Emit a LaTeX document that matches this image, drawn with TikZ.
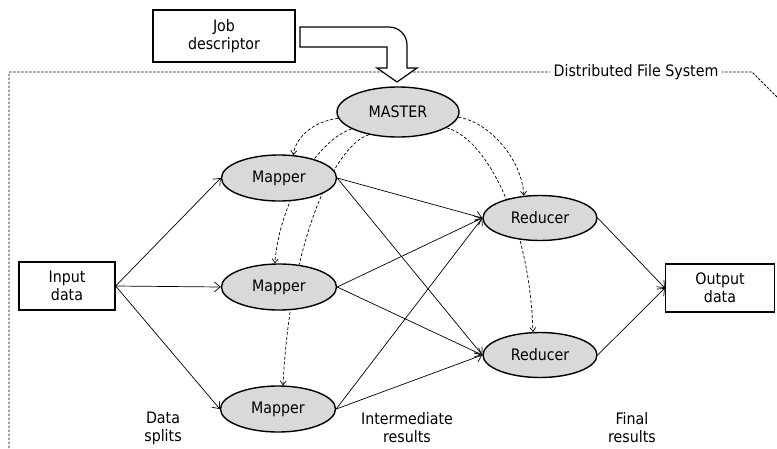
\documentclass[tikz,border=0pt]{standalone}
\usepackage{fontspec}
\setmainfont{DejaVu Sans Condensed}
\usetikzlibrary{shapes.geometric,arrows.meta,backgrounds}

\begin{document}
\begin{tikzpicture}[x=1pt, y=-1pt,
    font=\fontsize{15.8}{18}\selectfont,
    box/.style={draw, rectangle, line width=1.3pt, align=center, inner sep=0pt},
    worker/.style={draw, ellipse, line width=1.4pt, fill=black!15, inner sep=0pt,
        minimum width=115pt, minimum height=46pt},
    flow/.style={line width=0.7pt, -{Straight Barb[length=6pt,width=10pt]}},
    ctrl/.style={line width=0.7pt, dash pattern=on 3pt off 2pt,
        -{Straight Barb[length=4pt,width=6pt]}},
    dfs/.style={line width=0.8pt, dash pattern=on 2.5pt off 1.5pt}]
    \useasboundingbox (0,0) rectangle (777,448);

    % Distributed file system frame
    \draw[dfs] (9,448) -- (9,72) -- (752,72) -- (777,97);
    \node[fill=white, inner sep=4pt] (fs) at (636,72) {Distributed File System};

    % Job descriptor
    \node[box, minimum width=142pt, minimum height=52pt] (job) at (224,36) {Job\\descriptor};
    \draw[line width=1.2pt, fill=white] (300,27) -- (389,27)
        arc[start angle=-90, end angle=0, radius=18] -- (407,68) -- (417,68)
        -- (397,82) -- (377,68) -- (387,68) -- (387,47) -- (300,47) -- cycle;

    % Master
    \node[worker, minimum width=122pt, minimum height=50pt] (master) at (398,112) {MASTER};

    % Mappers
    \node[worker] (map1) at (279,178) {Mapper};
    \node[worker] (map2) at (279,287) {Mapper};
    \node[worker] (map3) at (278,409) {Mapper};

    % Reducers
    \node[worker, minimum width=114pt, minimum height=45pt] (red1) at (540,218) {Reducer};
    \node[worker, minimum width=114pt, minimum height=45pt] (red2) at (540,355) {Reducer};

    % Input and output
    \node[box, minimum width=96pt, minimum height=48pt] (in) at (67,286) {Input\\data};
    \node[box, minimum width=109pt, minimum height=48pt] (out) at (720,288) {Output\\data};

    % Control from the master (behind the workers)
    \begin{pgfonlayer}{background}
        \draw[ctrl] (master.186) .. controls (310,122) and (295,140) .. (map1.58);
        \draw[ctrl] (master.200) .. controls (318,140) and (280,200) .. (map2.100);
        \draw[ctrl] (master.218) .. controls (335,145) and (290,240) .. (map3.78);
        \draw[ctrl] (master.355) .. controls (490,122) and (522,160) .. (red1.126);
        \draw[ctrl] (master.342) .. controls (490,140) and (530,230) .. (red2.107);
    \end{pgfonlayer}

    % Data splits
    \foreach \m in {map1,map2,map3}
        \draw[flow] (in.east) -- (\m.west);

    % Intermediate results
    \foreach \m in {map1,map2,map3}
        \foreach \r in {red1,red2}
            \draw[flow] (\m.east) -- (\r.west);

    % Final results
    \draw[flow] (red1.east) -- (out.west);
    \draw[flow] (red2.east) -- (out.west);

    % Labels
    \node[align=center] (splits) at (163,428) {Data\\splits};
    \node[align=center] (inter) at (407,428) {Intermediate\\results};
    \node[align=center] (final) at (632,428) {Final\\results};
\end{tikzpicture}
\end{document}
